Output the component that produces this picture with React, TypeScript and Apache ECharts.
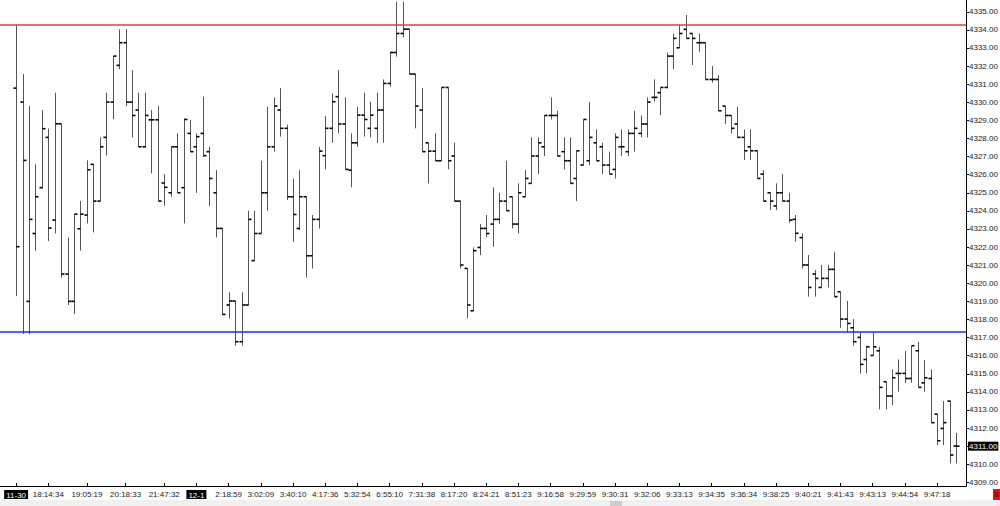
import React, { useEffect, useRef } from 'react';
import * as echarts from 'echarts';

const opens = [
  4330.78, 4330.01, 4319.0, 4322.75, 4325.28, 4328.06, 4323.49, 4328.81, 4320.51, 4319.0,
  4323.01, 4323.77, 4326.57, 4324.54, 4328.06, 4330.01, 4332.04, 4333.29, 4330.01, 4329.57,
  4327.54, 4329.03, 4329.03, 4325.54, 4325.0, 4327.54, 4325.28, 4328.28, 4327.54, 4328.28,
  4327.27, 4325.0, 4323.03, 4318.8, 4319.02, 4316.77, 4318.8, 4321.25, 4322.75, 4325.0,
  4327.54, 4329.57, 4328.56, 4324.78, 4323.03, 4324.78, 4321.52, 4323.53, 4327.05, 4328.56,
  4330.31, 4328.8, 4326.25, 4327.76, 4329.29, 4328.56, 4328.56, 4329.57, 4331.04, 4332.75,
  4333.8, 4334.04, 4331.56, 4329.57, 4327.76, 4327.3, 4326.77, 4330.82, 4327.03, 4324.54,
  4320.82, 4318.48, 4321.98, 4323.03, 4323.27, 4323.53, 4324.54, 4324.78, 4323.27, 4324.78,
  4325.52, 4327.03, 4327.54, 4329.27, 4329.27, 4327.27, 4326.77, 4325.79, 4326.53, 4326.77,
  4327.76, 4327.54, 4326.53, 4326.29, 4327.54, 4327.27, 4328.28, 4328.28, 4328.8, 4330.27,
  4330.53, 4330.82, 4332.55, 4333.01, 4334.03, 4333.8, 4333.29, 4333.29, 4331.26, 4331.26,
  4329.79, 4329.27, 4328.8, 4328.06, 4327.54, 4327.32, 4326.03, 4325.0, 4324.27, 4325.0,
  4324.54, 4323.53, 4322.52, 4321.01, 4320.51, 4319.77, 4320.27, 4320.77, 4319.53, 4318.02,
  4317.54, 4317.01, 4315.79, 4316.01, 4316.27, 4314.56, 4313.77, 4315.02, 4315.02, 4314.74,
  4316.27, 4314.5, 4314.74, 4312.77, 4311.98, 4313.49, 4311.01,
];

const highs = [
  4334.26, 4331.56, 4329.79, 4326.57, 4329.57, 4328.54, 4330.53, 4328.81, 4322.53, 4323.82,
  4324.54, 4326.79, 4326.6, 4328.06, 4330.53, 4332.55, 4334.03, 4334.03, 4331.78, 4330.53,
  4330.53, 4329.57, 4329.79, 4326.03, 4327.54, 4328.28, 4329.11, 4329.02, 4328.28, 4330.31,
  4327.54, 4326.25, 4323.03, 4319.5, 4319.02, 4319.5, 4324.01, 4324.01, 4326.77, 4329.75,
  4330.27, 4330.78, 4328.76, 4325.79, 4326.25, 4324.78, 4323.77, 4327.54, 4329.24, 4330.49,
  4331.78, 4330.27, 4328.28, 4329.75, 4330.53, 4330.03, 4330.53, 4331.26, 4332.8, 4335.55,
  4335.55, 4334.04, 4331.56, 4330.78, 4327.76, 4328.28, 4330.82, 4330.82, 4327.76, 4324.54,
  4320.82, 4321.98, 4323.27, 4323.77, 4325.3, 4325.0, 4326.77, 4324.78, 4325.52, 4326.25,
  4328.06, 4328.06, 4329.29, 4330.27, 4329.53, 4328.06, 4328.06, 4327.32, 4329.05, 4330.01,
  4328.5, 4327.76, 4327.27, 4328.28, 4328.5, 4328.5, 4329.53, 4329.27, 4330.27, 4331.26,
  4330.82, 4332.75, 4333.8, 4334.26, 4334.82, 4333.8, 4333.8, 4333.29, 4332.0, 4331.5,
  4329.79, 4329.27, 4329.75, 4328.5, 4328.5, 4327.32, 4326.25, 4325.0, 4325.52, 4326.03,
  4325.0, 4323.77, 4322.76, 4321.56, 4320.73, 4321.01, 4321.01, 4321.74, 4319.53, 4319.02,
  4318.02, 4317.29, 4316.55, 4317.29, 4316.49, 4314.56, 4315.24, 4315.79, 4316.27, 4316.55,
  4316.77, 4315.76, 4315.24, 4312.77, 4313.49, 4313.49, 4311.74,
];

const lows = [
  4319.29, 4317.2, 4317.2, 4321.8, 4325.24, 4322.33, 4322.75, 4320.31, 4318.8, 4318.3,
  4321.8, 4323.31, 4322.81, 4324.54, 4327.06, 4329.07, 4331.83, 4329.79, 4328.06, 4327.54,
  4327.49, 4326.07, 4324.54, 4324.28, 4324.78, 4325.0, 4323.31, 4327.27, 4325.0, 4326.99,
  4324.27, 4322.53, 4318.24, 4318.06, 4316.55, 4316.55, 4318.78, 4321.25, 4322.75, 4324.01,
  4327.27, 4328.1, 4324.6, 4322.29, 4322.94, 4320.31, 4320.82, 4323.03, 4326.29, 4327.76,
  4328.28, 4326.29, 4325.3, 4327.54, 4328.1, 4328.06, 4327.76, 4327.76, 4330.86, 4332.52,
  4333.58, 4331.56, 4328.56, 4327.27, 4325.52, 4326.77, 4326.77, 4326.29, 4324.54, 4320.82,
  4318.06, 4318.48, 4321.56, 4322.53, 4322.02, 4323.27, 4324.01, 4323.03, 4322.75, 4324.78,
  4325.52, 4326.03, 4327.03, 4329.05, 4327.03, 4326.29, 4325.52, 4324.54, 4326.53, 4326.53,
  4326.77, 4326.03, 4326.03, 4325.79, 4327.03, 4327.03, 4327.27, 4328.06, 4328.06, 4330.03,
  4329.29, 4330.77, 4331.82, 4333.01, 4333.53, 4332.06, 4332.79, 4331.26, 4331.08, 4329.53,
  4328.8, 4328.28, 4328.06, 4326.81, 4326.81, 4325.79, 4324.54, 4324.04, 4324.04, 4324.54,
  4323.34, 4322.3, 4320.82, 4319.26, 4319.26, 4319.77, 4319.77, 4319.26, 4317.54, 4317.29,
  4316.55, 4315.02, 4315.02, 4316.01, 4313.03, 4313.03, 4313.27, 4314.01, 4314.5, 4314.5,
  4314.25, 4314.01, 4312.3, 4311.06, 4311.06, 4310.05, 4310.05,
];

const closes = [
  4322.02, 4326.79, 4323.53, 4324.78, 4328.54, 4323.05, 4328.81, 4320.51, 4319.0, 4323.82,
  4323.82, 4326.27, 4324.54, 4327.54, 4330.01, 4332.55, 4333.29, 4330.01, 4329.27, 4327.54,
  4329.27, 4329.03, 4324.54, 4325.3, 4327.54, 4325.0, 4329.05, 4327.27, 4328.1, 4327.05,
  4325.79, 4323.03, 4318.28, 4319.02, 4316.77, 4318.8, 4323.53, 4322.75, 4325.0, 4327.54,
  4329.79, 4328.56, 4324.78, 4323.8, 4324.78, 4321.52, 4323.53, 4327.3, 4328.56, 4330.03,
  4328.8, 4326.29, 4327.76, 4329.29, 4329.05, 4329.29, 4329.57, 4331.04, 4332.75, 4333.8,
  4334.04, 4331.56, 4329.79, 4327.27, 4327.3, 4326.77, 4330.82, 4326.77, 4324.54, 4321.01,
  4318.8, 4321.8, 4323.03, 4322.75, 4323.53, 4324.54, 4324.01, 4323.27, 4325.0, 4325.79,
  4327.03, 4327.76, 4329.27, 4329.27, 4327.03, 4326.77, 4325.52, 4327.32, 4329.05, 4328.06,
  4326.77, 4326.53, 4326.03, 4328.06, 4327.54, 4328.28, 4328.56, 4328.8, 4330.01, 4330.27,
  4330.82, 4332.55, 4333.53, 4333.8, 4333.53, 4333.53, 4333.29, 4331.26, 4331.26, 4329.53,
  4329.27, 4328.56, 4328.06, 4327.32, 4327.32, 4325.79, 4324.54, 4324.54, 4325.0, 4324.54,
  4323.49, 4322.76, 4321.01, 4319.77, 4320.27, 4320.27, 4320.77, 4319.26, 4318.02, 4317.78,
  4316.77, 4315.52, 4316.49, 4316.49, 4314.25, 4313.77, 4314.78, 4315.02, 4314.74, 4316.55,
  4314.25, 4314.78, 4312.3, 4311.3, 4312.3, 4310.51, 4311.0,
];

// bar index -> time/date label on the x axis
const tickLabelBars = [
  0, 5, 11, 17, 23, 28, 33, 38, 43, 48, 53, 58, 63, 68, 73, 78, 83, 88, 93, 98,
  103, 108, 113, 118, 123, 128, 133, 138, 143,
];
const tickLabelTexts = [
  '11-30', '18:14:34', '19:05:19', '20:18:33', '21:47:32', '12-1', '2:18:59', '3:02:09',
  '3:40:10', '4:17:36', '5:32:54', '6:55:10', '7:31:38', '8:17:20', '8:24:21', '8:51:23',
  '9:16:58', '9:29:59', '9:30:31', '9:32:06', '9:33:13', '9:34:35', '9:36:34', '9:38:25',
  '9:40:21', '9:41:43', '9:43:13', '9:44:54', '9:47:18',
];
const dateLabels = ['11-30', '12-1'];

const resistanceLevel = 4334.3;
const supportLevel = 4317.3;
const yMin = 4308.8;
const yMax = 4335.65;
const leadPad = 2;
const tailPad = 1;

const FONT = "'Liberation Sans', Arial, sans-serif";
const FS = 8;

export default function App() {
  const ref = useRef<HTMLDivElement>(null);

  useEffect(() => {
    document.body.style.margin = '0';
    const chart = echarts.init(ref.current!, null, { renderer: 'svg' });
    const n = opens.length;
    const total = n + leadPad + tailPad;
    const categories = Array.from({ length: total }, (_, i) => String(i));
    const labelAt = new Map<number, string>();
    tickLabelBars.forEach((b, k) => labelAt.set(b + leadPad, tickLabelTexts[k]));
    const data = opens.map((o, i) => [i + leadPad, o, highs[i], lows[i], closes[i]]);
    const lastClose = closes[n - 1];

    const option: any = {
      animation: false,
      backgroundColor: '#ffffff',
      grid: {
        left: 0,
        top: 0,
        right: 34,
        bottom: 20,
        containLabel: false,
        outerBoundsMode: 'none',
      },
      xAxis: {
        type: 'category',
        data: categories,
        boundaryGap: true,
        axisLine: { show: true, lineStyle: { color: '#000', width: 1 } },
        axisTick: {
          show: true,
          alignWithLabel: true,
          inside: true,
          length: 3,
          interval: (i: number) => labelAt.has(i),
          lineStyle: { color: '#000' },
        },
        axisLabel: {
          interval: (i: number) => labelAt.has(i),
          formatter: (_v: string, i: number) => {
            const t = labelAt.get(i);
            if (!t) return '';
            return dateLabels.includes(t) ? `{d|${t}}` : t;
          },
          color: '#222',
          fontSize: FS,
          fontFamily: FONT,
          margin: 4,
          rich: {
            d: {
              backgroundColor: '#000',
              color: '#fff',
              padding: [1, 2, 0, 2],
              fontSize: FS,
              fontFamily: FONT,
            },
          },
        },
        splitLine: { show: false },
      },
      yAxis: {
        type: 'value',
        position: 'right',
        min: yMin,
        max: yMax,
        splitNumber: 27,
        minInterval: 1,
        maxInterval: 1,
        scale: true,
        axisLine: { show: true, lineStyle: { color: '#000', width: 1 } },
        axisTick: { show: true, length: 3, lineStyle: { color: '#000' } },
        axisLabel: {
          showMinLabel: false,
          showMaxLabel: false,
          formatter: (v: number) => v.toFixed(2),
          color: '#222',
          fontSize: FS,
          fontFamily: FONT,
          margin: 3,
        },
        splitLine: { show: false },
      },
      series: [
        {
          type: 'custom',
          encode: { x: 0, y: [1, 2, 3, 4] },
          data,
          renderItem: (_params: any, api: any) => {
            const xi = api.value(0);
            const o = api.value(1);
            const h = api.value(2);
            const l = api.value(3);
            const c = api.value(4);
            const pH = api.coord([xi, h]);
            const pL = api.coord([xi, l]);
            const pO = api.coord([xi, o]);
            const pC = api.coord([xi, c]);
            const cx = Math.round(pH[0]) + 0.5;
            const w = 3;
            return {
              type: 'group',
              children: [
                {
                  type: 'line',
                  shape: { x1: cx, y1: pH[1], x2: cx, y2: pL[1] },
                  style: { stroke: '#555', lineWidth: 1 },
                },
                {
                  type: 'line',
                  shape: { x1: cx - w, y1: pO[1], x2: cx, y2: pO[1] },
                  style: { stroke: '#000', lineWidth: 1.6 },
                },
                {
                  type: 'line',
                  shape: { x1: cx, y1: pC[1], x2: cx + w, y2: pC[1] },
                  style: { stroke: '#000', lineWidth: 1.6 },
                },
              ],
            };
          },
          markLine: {
            silent: true,
            symbol: ['none', 'none'],
            animation: false,
            data: [
              {
                yAxis: resistanceLevel,
                lineStyle: { color: '#f03636', width: 1.6, type: 'solid' },
                label: { show: false },
              },
              {
                yAxis: supportLevel,
                lineStyle: { color: '#1430f0', width: 1.6, type: 'solid' },
                label: { show: false },
              },
              {
                yAxis: lastClose,
                lineStyle: { color: 'rgba(0,0,0,0)', width: 1 },
                label: {
                  show: true,
                  position: 'end',
                  distance: 2,
                  formatter: lastClose.toFixed(2),
                  backgroundColor: '#000',
                  color: '#fff',
                  padding: [1, 1, 0, 1],
                  fontSize: FS,
                  fontFamily: FONT,
                },
              },
            ],
          },
        },
      ],
      graphic: [
        {
          type: 'rect',
          silent: true,
          shape: { x: 0, y: 500, width: 1000, height: 6 },
          style: { fill: '#f0f0f0' },
        },
        {
          type: 'rect',
          silent: true,
          shape: { x: 610, y: 501, width: 12, height: 5 },
          style: { fill: '#cdcdcd' },
        },
        {
          type: 'rect',
          silent: true,
          shape: { x: 993, y: 489, width: 7, height: 11 },
          style: { fill: '#ee1010' },
        },
        {
          type: 'text',
          silent: true,
          x: 994,
          y: 490,
          style: { text: '8', fill: '#300', fontSize: FS, fontFamily: FONT },
        },
      ],
    };

    chart.setOption(option);
    return () => chart.dispose();
  }, []);

  return (
    <div
      ref={ref}
      style={{ position: 'fixed', left: 0, top: 0, width: 1000, height: 506, background: '#fff' }}
    />
  );
}
